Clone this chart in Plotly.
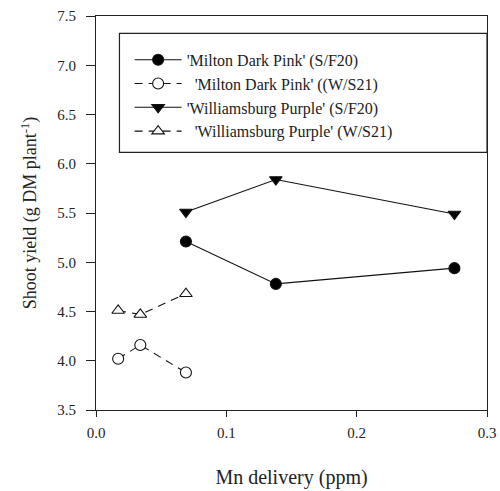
import plotly.graph_objects as go

mdp_sf20_x = [0.069, 0.138, 0.275]
mdp_sf20_y = [5.21, 4.78, 4.94]
mdp_ws21_x = [0.017, 0.034, 0.069]
mdp_ws21_y = [4.02, 4.16, 3.88]
wp_sf20_x = [0.069, 0.138, 0.275]
wp_sf20_y = [5.51, 5.84, 5.49]
wp_ws21_x = [0.017, 0.034, 0.069]
wp_ws21_y = [4.51, 4.47, 4.68]

names = [
    "'Milton Dark Pink' (S/F20)",
    "\u00a0\u00a0'Milton Dark Pink' ((W/S21)",
    "'Williamsburg Purple' (S/F20)",
    "\u00a0\u00a0'Williamsburg Purple' (W/S21)",
]

FONT = "Liberation Serif, Times New Roman, serif"
fig = go.Figure()

def add(x, y, name, symbol, fill, dash):
    fig.add_trace(go.Scatter(
        x=x, y=y, name=name, mode="lines+markers",
        line=dict(color="#111", width=1.1, dash=dash),
        marker=dict(symbol=symbol, size=11, color=fill,
                    line=dict(color="#111", width=1.1)),
    ))

add(mdp_sf20_x, mdp_sf20_y, names[0], "circle", "#000", "solid")
add(mdp_ws21_x, mdp_ws21_y, names[1], "circle", "#fff", "8px,6px")
add(wp_sf20_x, wp_sf20_y, names[2], "triangle-down", "#000", "solid")
add(wp_ws21_x, wp_ws21_y, names[3], "triangle-up", "#fff", "8px,6px")

axis_common = dict(
    showline=True, linecolor="#222", linewidth=1.2, mirror=True,
    ticks="outside", tickcolor="#222", showgrid=False, zeroline=False,
    automargin=False,
    tickfont=dict(family=FONT, size=15, color="#222"),
)

fig.update_layout(
    width=500, height=491,
    margin=dict(l=96, r=13, t=16, b=81),
    paper_bgcolor="white", plot_bgcolor="white",
    font=dict(family=FONT, color="#222"),
    xaxis=dict(range=[0, 0.3], tickvals=[0, 0.1, 0.2, 0.3],
               ticktext=["0.0", "0.1", "0.2", "0.3"], ticklen=6, ticklabelstandoff=3,
               title=dict(text="Mn delivery (ppm)", font=dict(family=FONT, size=20), standoff=29),
               **axis_common),
    yaxis=dict(range=[3.5, 7.5], dtick=0.5, tickformat=".1f", ticklen=9, ticklabelstandoff=7,
               title=dict(text="Shoot yield (g DM plant<sup>-1</sup>)", font=dict(family=FONT, size=18), standoff=15),
               **axis_common),
    legend=dict(x=0.086, y=0.932, xanchor="left", yanchor="top",
                bgcolor="rgba(0,0,0,0)", borderwidth=0,
                font=dict(family=FONT, size=16, color="#222"),
                itemwidth=47),
    showlegend=True,
    shapes=[dict(type="rect", xref="paper", yref="paper",
                 x0=0.060, x1=1.0, y0=0.654, y1=0.956,
                 line=dict(color="#222", width=1.2), fillcolor="rgba(0,0,0,0)")],
)

fig.write_html("out.html")
